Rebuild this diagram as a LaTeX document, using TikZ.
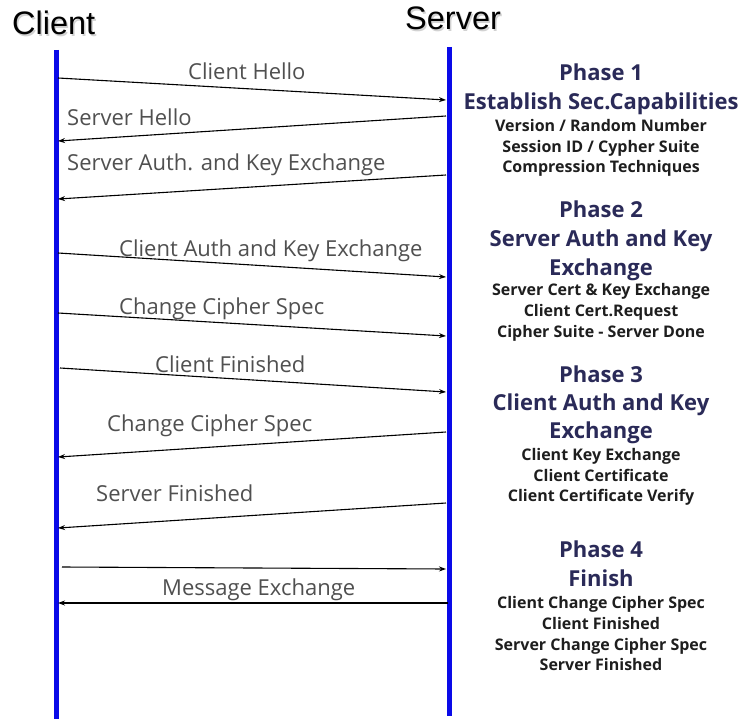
\documentclass[tikz,border=0pt]{standalone}
\usepackage{fontspec}
\setmainfont{Open Sans}
\newfontfamily\titlefont{Liberation Sans}
\usetikzlibrary{arrows.meta}
\definecolor{lifeblue}{HTML}{0A0AE8}
\definecolor{phasenavy}{HTML}{2A2A58}
\definecolor{labelgrey}{HTML}{505050}
\definecolor{detailink}{HTML}{1E1E1E}
\begin{document}
\begin{tikzpicture}[x=1pt,y=-1pt,
  lifeline/.style={line width=5pt, draw=lifeblue},
  msg/.style={line width=1.1pt, draw=black, -{Stealth[length=7pt,width=5pt]}},
  msglabel/.style={font=\fontsize{22}{26}\selectfont, text=labelgrey, inner sep=0pt, anchor=base west},
  title/.style={font=\titlefont\fontsize{32.5}{36}\selectfont, text=black, inner sep=0pt, anchor=base west},
  titleshade/.style={title, text=black!35, opacity=0.5},
  phasehead/.style={font=\bfseries\fontsize{22}{26}\selectfont, text=phasenavy, inner sep=0pt, anchor=base},
  phaseitem/.style={font=\bfseries\fontsize{16}{19}\selectfont, text=detailink, inner sep=0pt, anchor=base}
]
\useasboundingbox[fill=white] (0,0) rectangle (743,719);

% participant titles with a soft drop shade
\node[titleshade] (clientshade) at (13.5,36.5) {Client};
\node[title] (clienttitle) at (12,35) {Client};
\node[titleshade] (servershade) at (406.5,31.5) {Server};
\node[title] (servertitle) at (405,30) {Server};

% lifelines
\coordinate (ctop) at (56,50);
\coordinate (cbot) at (56,719);
\coordinate (stop) at (449,47);
\coordinate (sbot) at (449,716);
\draw[lifeline] (ctop) -- (cbot);
\draw[lifeline] (stop) -- (sbot);

% message end points on the lifelines
\coordinate (c1) at (58,78);   \coordinate (s1) at (446,100);
\coordinate (s2) at (446,116); \coordinate (c2) at (58,141);
\coordinate (s3) at (446,175); \coordinate (c3) at (58,199);
\coordinate (c4) at (58,253);  \coordinate (s4) at (446,277);
\coordinate (c5) at (58,313);  \coordinate (s5) at (446,336);
\coordinate (c6) at (60,368);  \coordinate (s6) at (446,392);
\coordinate (s7) at (446,432); \coordinate (c7) at (58,457);
\coordinate (s8) at (446,503); \coordinate (c8) at (58,528);
\coordinate (c9) at (62,567);  \coordinate (s9) at (446,569);
\coordinate (s10) at (448,603);\coordinate (c10) at (58,603);

\draw[msg] (c1) -- (s1);
\draw[msg] (s2) -- (c2);
\draw[msg] (s3) -- (c3);
\draw[msg] (c4) -- (s4);
\draw[msg] (c5) -- (s5);
\draw[msg] (c6) -- (s6);
\draw[msg] (s7) -- (c7);
\draw[msg] (s8) -- (c8);
\draw[msg] (c9) -- (s9);
\draw[msg] (s10) -- (c10);

% message labels
\node[msglabel] (l1) at (188,80) {Client Hello};
\node[msglabel] (l2) at (67,126) {Server Hello};
\node[msglabel] (l3) at (67,171) {Server Auth. and Key Exchange};
\node[msglabel] (l4) at (119,256) {Client Auth and Key Exchange};
\node[msglabel] (l5) at (119,314) {Change Cipher Spec};
\node[msglabel] (l6) at (155,372) {Client Finished};
\node[msglabel] (l7) at (107,431) {Change Cipher Spec};
\node[msglabel] (l8) at (96,501) {Server Finished};
\node[msglabel] (l10) at (162,595) {Message Exchange};

% phase descriptions
\node[phasehead] (p1) at (601,81) {Phase 1};
\node[phasehead] (p1a) at (601,110) {Establish Sec.Capabilities};
\node[phaseitem] (p1b) at (601,132) {Version / Random Number};
\node[phaseitem] (p1c) at (601,152.5) {Session ID / Cypher Suite};
\node[phaseitem] (p1d) at (601,173) {Compression Techniques};

\node[phasehead] (p2) at (601,218) {Phase 2};
\node[phasehead] (p2a) at (601,246) {Server Auth and Key};
\node[phasehead] (p2b) at (601,275) {Exchange};
\node[phaseitem] (p2c) at (601,295) {Server Cert \& Key Exchange};
\node[phaseitem] (p2d) at (601,316) {Client Cert.Request};
\node[phaseitem] (p2e) at (601,337) {Cipher Suite - Server Done};

\node[phasehead] (p3) at (601,382) {Phase 3};
\node[phasehead] (p3a) at (601,410) {Client Auth and Key};
\node[phasehead] (p3b) at (601,438) {Exchange};
\node[phaseitem] (p3c) at (601,460) {Client Key Exchange};
\node[phaseitem] (p3d) at (601,481) {Client Certificate};
\node[phaseitem] (p3e) at (601,501) {Client Certificate Verify};

\node[phasehead] (p4) at (601,557) {Phase 4};
\node[phasehead] (p4a) at (601,586) {Finish};
\node[phaseitem] (p4b) at (601,608) {Client Change Cipher Spec};
\node[phaseitem] (p4c) at (601,629) {Client Finished};
\node[phaseitem] (p4d) at (601,650) {Server Change Cipher Spec};
\node[phaseitem] (p4e) at (601,670) {Server Finished};
\end{tikzpicture}
\end{document}
